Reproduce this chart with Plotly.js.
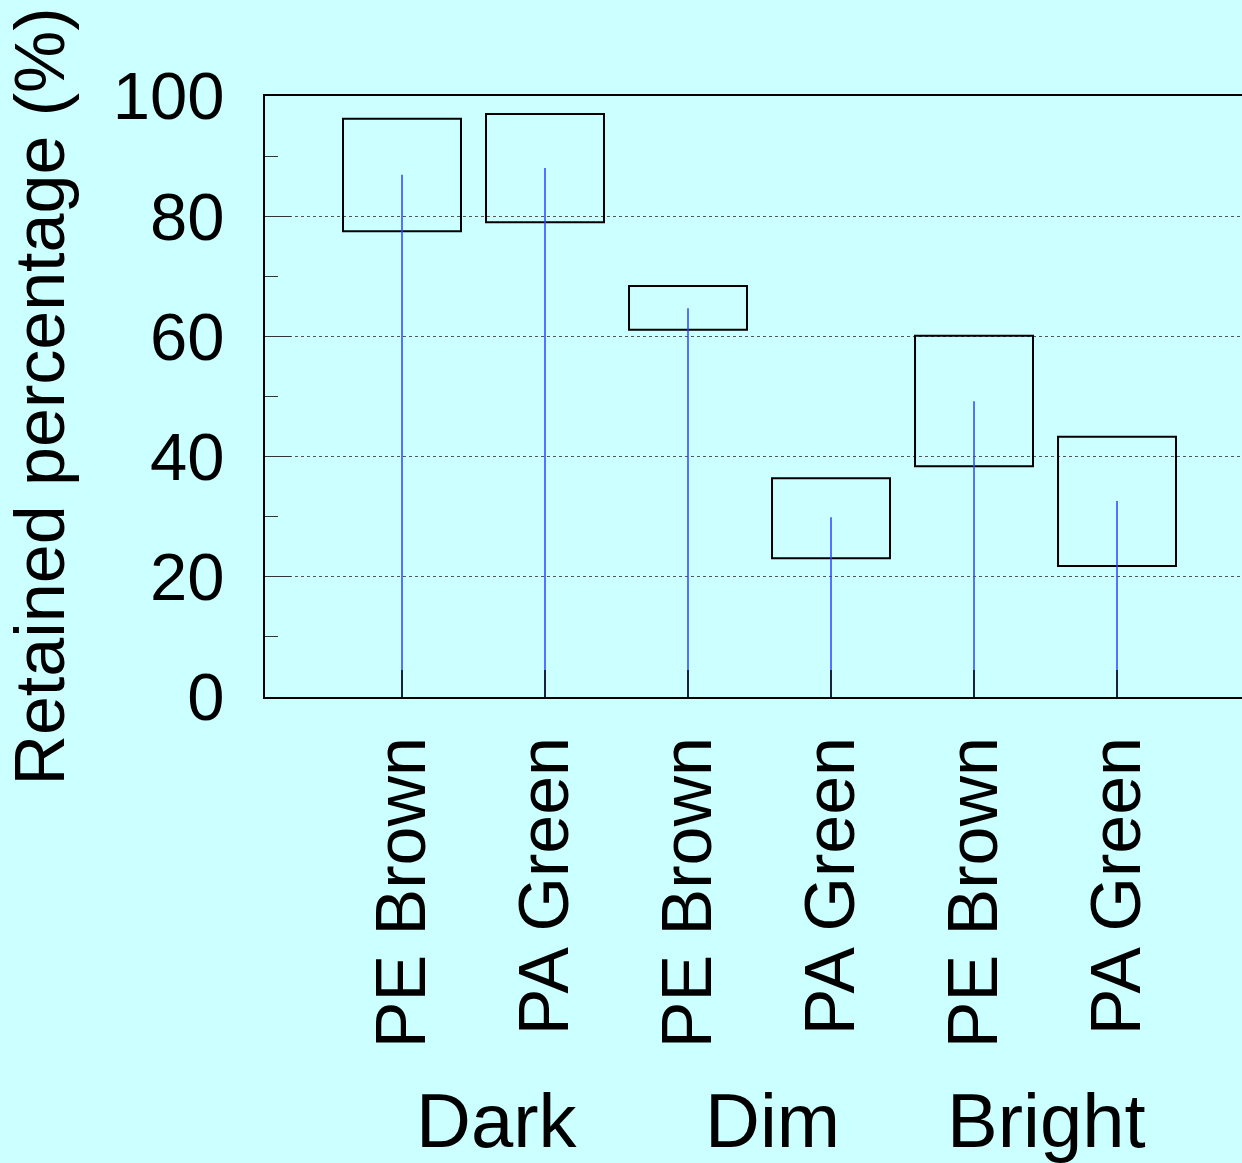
<!DOCTYPE html>
<html>
<head>
<meta charset="utf-8">
<script src="https://cdn.plot.ly/plotly-3.0.1.min.js"></script>
<style>html,body{margin:0;padding:0;background:#ccffff;}</style>
</head>
<body>
<div id="chart" style="width:1242px;height:1163px;"></div>
<script>
// Data
const categories = ["PE Brown", "PA Green", "PE Brown", "PA Green", "PE Brown", "PA Green"];
const groups = ["Dark", "Dim", "Bright"];
const groupCenters = [0.66, 2.59, 4.51];
const boxLow  = [77.5, 79.0, 61.1, 23.1, 38.4, 21.8];
const boxHigh = [96.2, 97.0, 68.4, 36.4, 60.1, 43.3];
const centerValue = [86.9, 88.0, 64.7, 29.9, 49.2, 32.6];
const yTicks = [0, 20, 40, 60, 80, 100];

const xIdx = categories.map((_, i) => i);
const FONT = '"Liberation Sans", Arial, sans-serif';

const boxTrace = {
  type: 'bar',
  x: xIdx,
  base: boxLow,
  y: boxHigh.map((h, i) => h - boxLow[i]),
  width: 0.825,
  marker: {color: 'rgba(0,0,0,0)', line: {color: '#000', width: 2}},
  hoverinfo: 'skip',
  showlegend: false
};

const lx = [], ly = [];
xIdx.forEach((x, i) => { lx.push(x, x, null); ly.push(0, centerValue[i], null); });
const lineTrace = {
  type: 'scatter', mode: 'lines', x: lx, y: ly,
  line: {color: '#2a45ff', width: 1.5},
  hoverinfo: 'skip', showlegend: false
};

const annotations = groups.map((g, i) => ({
  text: g, x: groupCenters[i], xref: 'x', y: -0.704, yref: 'paper',
  xanchor: 'center', yanchor: 'middle', showarrow: false,
  font: {family: FONT, size: 76, color: '#000'}
}));

const layout = {
  width: 1242, height: 1163,
  paper_bgcolor: '#ccffff', plot_bgcolor: '#ccffff',
  margin: {l: 265, r: 0, t: 96, b: 466},
  font: {family: FONT, color: '#000'},
  bargap: 0,
  xaxis: {
    range: [-0.958, 5.874], tickvals: xIdx, ticktext: categories,
    tickangle: -90, ticks: 'inside', ticklen: 27, tickwidth: 1.5, tickcolor: '#1a2040',
    showline: true, linecolor: '#000', linewidth: 2, mirror: true,
    showgrid: false, zeroline: false, ticklabelstandoff: 10,
    tickfont: {family: FONT, size: 70, color: '#000'}
  },
  yaxis: {
    range: [0, 100], tickvals: yTicks, ticks: 'inside', ticklen: 26, tickwidth: 1, tickcolor: '#333',
    minor: {dtick: 10, tick0: 0, ticks: 'inside', ticklen: 13, tickwidth: 1, tickcolor: '#333', showgrid: false},
    showline: true, linecolor: '#000', linewidth: 2,
    showgrid: true, gridcolor: '#555', griddash: 'dot', gridwidth: 1,
    zeroline: false, ticklabelstandoff: 25,
    tickfont: {family: FONT, size: 67, color: '#000'},
    title: {text: 'Retained percentage (%)', font: {family: FONT, size: 70, color: '#000'}, standoff: 25}
  },
  annotations: annotations
};

Plotly.newPlot('chart', [boxTrace, lineTrace], layout, {staticPlot: true, displayModeBar: false});
</script>
</body>
</html>
